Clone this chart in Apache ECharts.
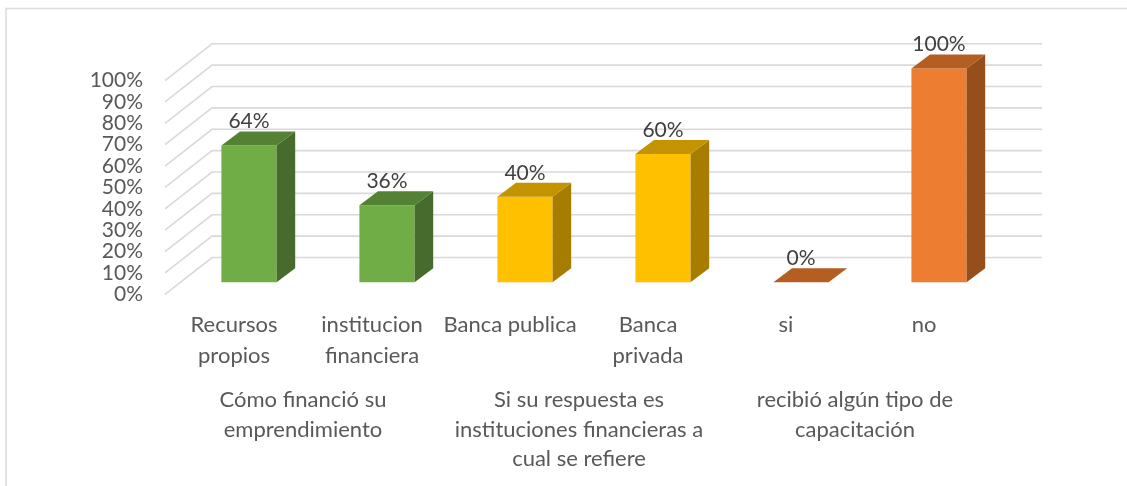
<!DOCTYPE html>
<html>
<head>
<meta charset="utf-8">
<title>Financiamiento</title>
<style>
  html, body { margin: 0; padding: 0; background: #fff; }
  #chart { width: 1127px; height: 486px; }
</style>
</head>
<body>
<div id="chart"></div>
<script src="https://cdn.jsdelivr.net/npm/echarts@6/dist/echarts.min.js"></script>
<script>
const categories = ['Recursos\npropios', 'institucion\nfinanciera', 'Banca publica', 'Banca\nprivada', 'si', 'no'];
const values = [64, 36, 40, 60, 0, 100];
const groups = ['Cómo financió su\nemprendimiento', 'Si su respuesta es\ninstituciones financieras a\ncual se refiere', 'recibió algún tipo de\ncapacitación'];
const yTicks = [0, 10, 20, 30, 40, 50, 60, 70, 80, 90, 100];

// colores de cada barra: frente, tapa, lateral
const green = ['#70ad47', '#548235', '#476b2c'];
const gold = ['#ffc000', '#c49400', '#a67d00'];
const orange = ['#ed7d31', '#b55e22', '#964e1a'];
const barShades = [green, green, gold, gold, orange, orange];

// perspectiva: desplazamiento de la pared del fondo y de las barras
const wallDx = 47, wallDy = 36.8;
const wallExtra = 2;
const barFrontDx = 15, barFrontDy = 12;
const depthDx = 18.6, depthDy = 14;
const barRatio = 0.4;

const textFont = 'Lato';

const renderWall = (params, api) => {
  const y = api.coord([0, api.value(0)])[1];
  const x0 = params.coordSys.x;
  const x1 = x0 + params.coordSys.width + wallExtra;
  return {
    type: 'polyline',
    shape: { points: [[x0, y], [x0 + wallDx, y - wallDy], [x1 + wallDx, y - wallDy]] },
    style: { stroke: '#d9d9d9', lineWidth: 1.6, fill: null }
  };
};

const renderBar = (params, api) => {
  const i = api.value(0);
  const top = api.coord([i, api.value(1)]);
  const base = api.coord([i, 0]);
  const w = api.size([1, 0])[0] * barRatio;
  const l = top[0] - w / 2 + barFrontDx;
  const r = l + w;
  const t = top[1] - barFrontDy;
  const b = base[1] - barFrontDy;
  const shades = barShades[i];
  const poly = (points, fill) => ({ type: 'polygon', shape: { points }, style: { fill } });
  const children = [];
  if (b - t > 0.5) {
    children.push(poly([[l, t], [r, t], [r, b], [l, b]], shades[0]));
    children.push(poly([[r, t], [r + depthDx, t - depthDy], [r + depthDx, b - depthDy], [r, b]], shades[2]));
  }
  children.push(poly([[l, t], [r, t], [r + depthDx, t - depthDy], [l + depthDx, t - depthDy]], shades[1]));
  children.push({
    type: 'text',
    style: {
      x: l + w / 2,
      y: t - depthDy - 10,
      text: api.value(1) + '%',
      fill: '#404040',
      font: '21px ' + textFont,
      align: 'center',
      verticalAlign: 'middle'
    }
  });
  return { type: 'group', children };
};

const chart = echarts.init(document.getElementById('chart'), null, { renderer: 'canvas' });

chart.setOption({
  animation: false,
  backgroundColor: '#fff',
  grid: { left: 165, top: 80.6, width: 828, height: 213.7 },
  xAxis: [
    {
      type: 'category',
      data: categories,
      axisLine: { show: false },
      axisTick: { show: false },
      axisLabel: { interval: 0, margin: 15, color: '#595959', fontFamily: textFont, fontSize: 22, lineHeight: 31 }
    },
    {
      type: 'category',
      position: 'bottom',
      offset: 91,
      data: groups,
      axisLine: { show: false },
      axisTick: { show: false },
      axisLabel: { interval: 0, margin: 0, color: '#595959', fontFamily: textFont, fontSize: 22, lineHeight: 29.5 }
    }
  ],
  yAxis: {
    type: 'value',
    min: 0,
    max: 100,
    interval: 10,
    axisLine: { show: false },
    axisTick: { show: false },
    splitLine: { show: false },
    axisLabel: { margin: 22, color: '#595959', fontFamily: textFont, fontSize: 21, padding: [5, 0, 0, 0], formatter: '{value}%' }
  },
  series: [
    {
      type: 'custom',
      z: 1,
      silent: true,
      coordinateSystem: 'cartesian2d',
      renderItem: renderWall,
      encode: { y: 0 },
      data: yTicks.map(t => [t])
    },
    {
      type: 'custom',
      z: 2,
      silent: true,
      coordinateSystem: 'cartesian2d',
      renderItem: renderBar,
      encode: { x: 0, y: 1 },
      data: values.map((v, i) => [i, v])
    }
  ],
  graphic: [
    {
      type: 'polyline',
      silent: true,
      shape: { points: [[6, 486], [6, 8.5], [1127, 8.5]] },
      style: { stroke: '#dcdcdc', lineWidth: 1.5, fill: null }
    }
  ]
});
</script>
</body>
</html>
